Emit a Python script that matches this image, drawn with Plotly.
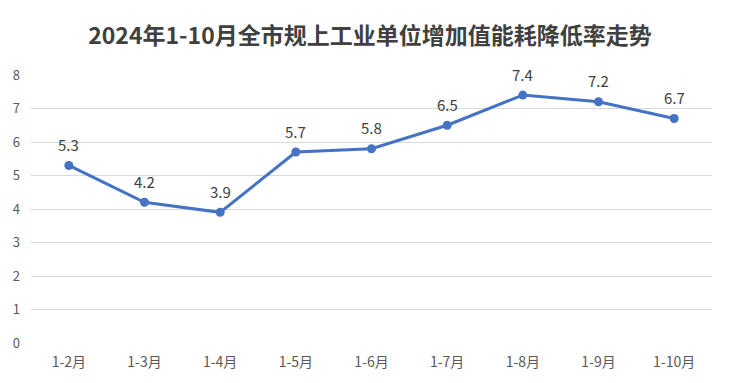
import plotly.graph_objects as go

categories = ["1-2月", "1-3月", "1-4月", "1-5月", "1-6月", "1-7月", "1-8月", "1-9月", "1-10月"]
values = [5.3, 4.2, 3.9, 5.7, 5.8, 6.5, 7.4, 7.2, 6.7]
title_text = "2024年1-10月全市规上工业单位增加值能耗降低率走势"

font_family = "Noto Sans CJK SC, Microsoft YaHei, sans-serif"

fig = go.Figure()
fig.add_trace(go.Scatter(
    x=categories, y=values,
    mode="lines+markers",
    line=dict(color="#4472C4", width=3),
    marker=dict(color="#4472C4", size=9),
    cliponaxis=False,
    hoverinfo="skip",
))

for c, v in zip(categories, values):
    fig.add_annotation(x=c, y=v, text=f"{v:.1f}", showarrow=False,
                       yanchor="middle", yshift=21,
                       font=dict(size=15, color="#404040", family=font_family))

# page body has an 8px margin; figure sized so the plot area lands where the reference has it
fig.update_layout(
    width=724, height=375,
    margin=dict(l=23, r=20, t=67, b=40, autoexpand=False),
    paper_bgcolor="white", plot_bgcolor="white",
    showlegend=False,
    title=dict(text=f"<b>{title_text}</b>", x=0.5, xanchor="center", y=0.925, yanchor="middle",
               font=dict(size=23, color="#404040", family=font_family)),
    xaxis=dict(
        type="category", range=[-0.5, 8.5], automargin=False,
        showgrid=False, showline=False, zeroline=False,
        tickfont=dict(size=14, color="#595959", family=font_family),
        ticks="", ticklabelstandoff=9,
    ),
    yaxis=dict(
        range=[0, 8], dtick=1, automargin=False,
        showgrid=True, gridcolor="#D9D9D9", gridwidth=1,
        zeroline=False, showline=False,
        tickfont=dict(size=13, color="#595959", family=font_family),
        ticks="", ticklabelstandoff=10,
    ),
)

# spreadsheet-style border lines near the page edges
fig.add_shape(type="line", xref="paper", yref="paper", x0=-0.0426, x1=-0.0426, y0=-0.2, y1=1.3,
              line=dict(color="#D9D9D9", width=1))
fig.add_shape(type="line", xref="paper", yref="paper", x0=1.025, x1=1.025, y0=-0.2, y1=1.3,
              line=dict(color="#D9D9D9", width=1))

fig.write_html("out.html")
